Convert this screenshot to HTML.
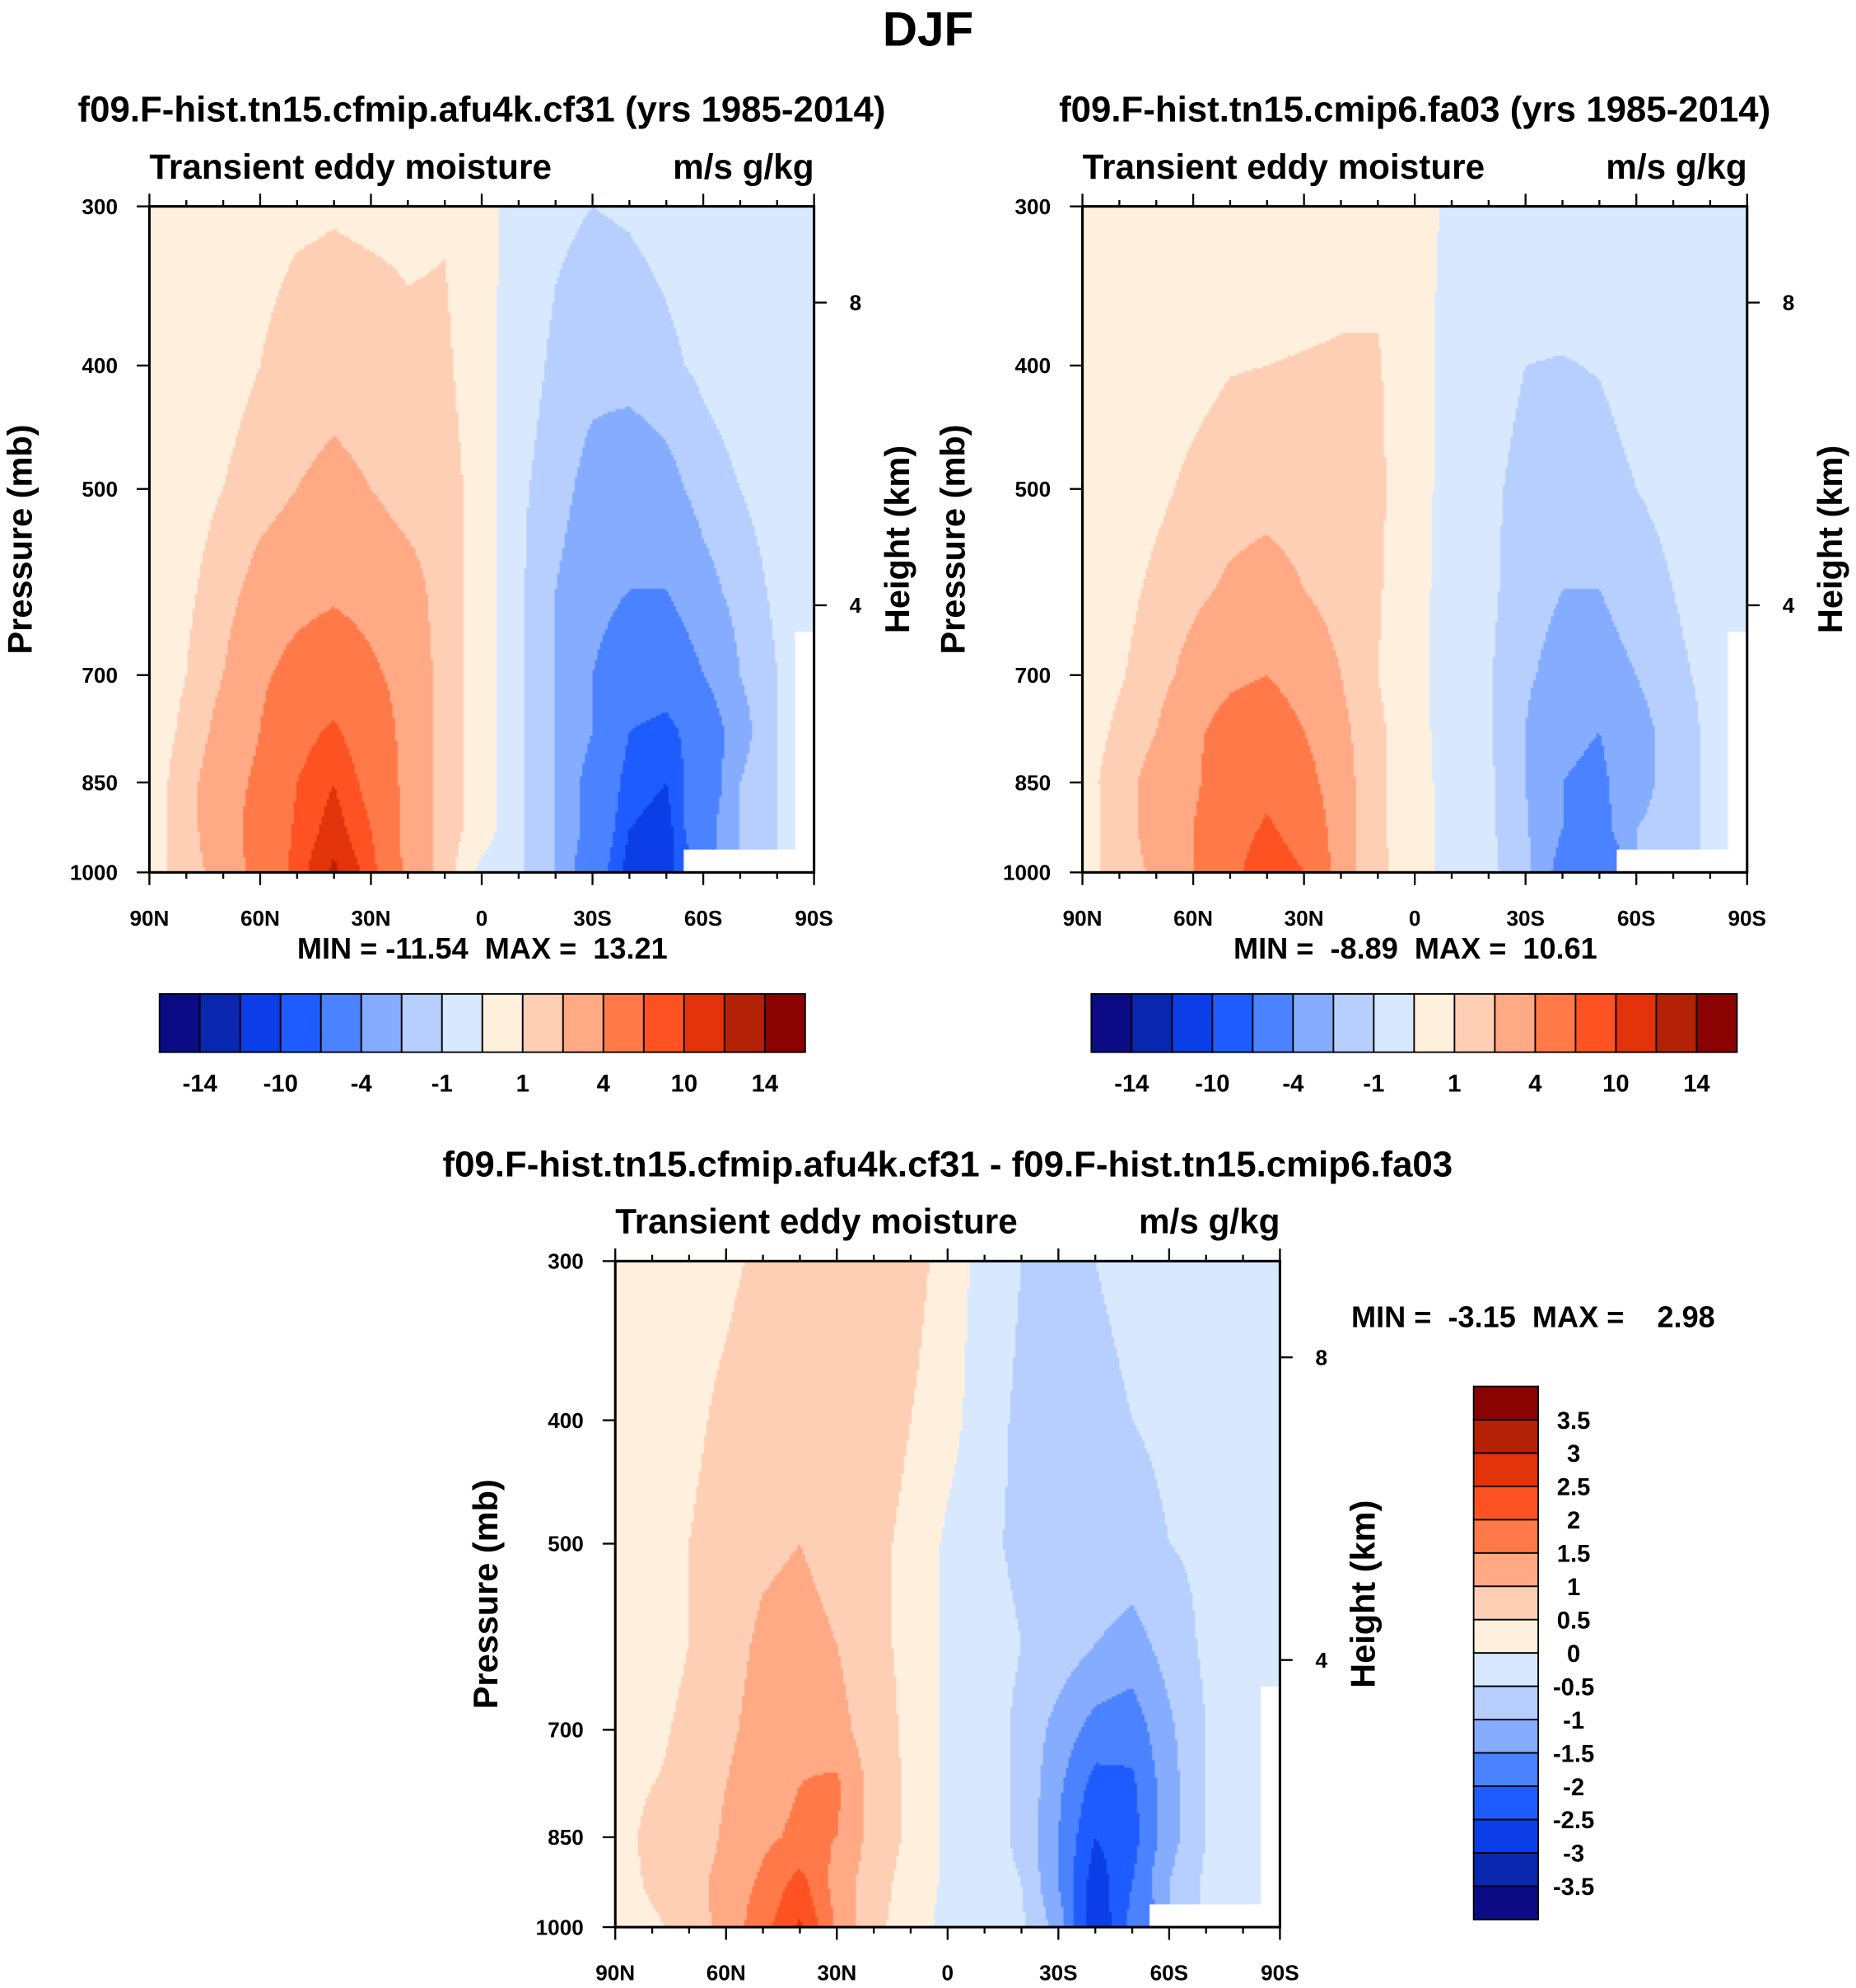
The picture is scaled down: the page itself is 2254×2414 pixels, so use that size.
<!DOCTYPE html>
<html><head><meta charset="utf-8">
<style>
body{margin:0;background:#fff;}
#wrap{position:absolute;left:0;top:0;width:1466px;height:1570px;transform:scale(1.5375);transform-origin:0 0;}
canvas{position:absolute;}
svg{position:absolute;left:0;top:0;}
text{font-family:"Liberation Sans",sans-serif;font-weight:bold;fill:#000;white-space:pre;}
</style></head>
<body>
<div id="wrap">
<canvas id="c1" width="525" height="526" style="left:118px;top:163px"></canvas>
<canvas id="c2" width="525" height="526" style="left:855px;top:163px"></canvas>
<canvas id="c3" width="525" height="526" style="left:486px;top:996px"></canvas>
<svg id="s" width="1466" height="1570" viewBox="0 0 1466 1570"></svg>
</div>
<script>
const lats=[90,80,70,60,50,40,30,20,10,0,-10,-20,-30,-40,-50,-60,-70,-80,-90];
const levels=[1000,925,850,775,700,600,500,400,300];
const n=null;
const data1=[
[0.5,1.5,2.5,5,9,12.5,9,3,1.5,-0.3,-0.8,-2,-6,-11,-10,n,n,n,n],
[0.5,1.5,3,5,8.5,11,8,3,1.5,0.5,-0.8,-2,-5,-10,-11,-5,-2,-1,n],
[0.5,1.5,3,4.5,8,10,7,3,1.5,0.5,-0.8,-2,-5,-9,-10,-6,-2,-1,n],
[0.5,1.2,2.5,4,7,8.5,6,3,1.5,0.5,-0.8,-2,-4,-8,-9,-6,-2.5,-1,n],
[0.5,1,2,3.5,5,6,4.5,3,1.5,0.5,-0.8,-2,-4,-6,-6,-4,-2,-1,n],
[0.3,0.8,1.5,2.5,3,3.5,3,2.5,1.5,0.5,-0.8,-2,-3,-4,-4,-2.5,-1.5,-0.8,-0.5],
[0.3,0.6,1,1.5,2,2.3,2,1.5,1.5,0.5,-0.8,-1.5,-2.5,-3,-2.5,-1.5,-1,-0.6,-0.5],
[0.2,0.4,0.6,1,1.5,1.6,1.5,1.2,1.2,0.3,-0.5,-1.2,-1.6,-1.5,-1.2,-0.8,-0.5,-0.4,-0.3],
[0.2,0.3,0.4,0.6,0.8,0.9,0.8,0.8,0.9,0.3,-0.3,-0.8,-1,-0.9,-0.7,-0.5,-0.4,-0.3,-0.2]];
const data2=[
[0.5,1.5,2.2,4,7,10,8,2.5,1.2,0.5,-0.4,-0.8,-1.5,-5,-6,n,n,n,n],
[0.5,1.5,2.5,4,6.5,8.5,6.5,2.5,1.2,0.4,-0.4,-0.8,-1.8,-4,-5,-2,-1.5,-0.8,n],
[0.6,1.5,2.5,3.5,6,7,5,2.5,1.2,0.4,-0.4,-0.8,-2,-4,-4.5,-2.5,-1.5,-0.8,n],
[0.5,1.2,2,3.5,5,5.5,4,2.3,1.2,0.3,-0.4,-0.9,-2,-3.5,-4,-2.5,-1.5,-0.8,n],
[0.4,0.9,1.5,2.5,3.5,4,3,2,1,0.3,-0.4,-0.9,-1.8,-2.5,-2.5,-2,-1.2,-0.8,n],
[0.3,0.7,1.2,1.7,2.2,2.5,2,1.5,1.1,0.3,-0.4,-0.8,-1.5,-2,-2,-1.5,-1,-0.6,-0.5],
[0.3,0.5,0.8,1.2,1.5,1.6,1.5,1.3,1.2,0.3,-0.3,-0.8,-1.3,-1.5,-1.4,-1,-0.7,-0.5,-0.4],
[0.2,0.3,0.5,0.7,0.95,1.0,1.05,1.1,1.1,0.2,-0.2,-0.6,-1.0,-1.05,-0.95,-0.6,-0.4,-0.3,-0.2],
[0.1,0.2,0.3,0.4,0.5,0.5,0.5,0.6,0.6,0.2,-0.1,-0.2,-0.3,-0.3,-0.3,-0.2,-0.2,-0.2,-0.1]];
const data3=[
[0.2,0.4,0.7,1.2,1.8,2.6,1.4,0.6,0.3,-0.2,-0.3,-0.4,-1.2,-3,-1.8,n,n,n,n],
[0.2,0.6,0.8,1.2,1.6,2.2,1.3,0.7,0.3,-0.1,-0.3,-0.5,-1.5,-2.8,-2,-1,-0.4,-0.3,n],
[0.2,0.7,0.6,1.1,1.4,1.6,1.5,0.8,0.4,-0.1,-0.3,-0.6,-1.5,-2.5,-2.2,-1.2,-0.5,-0.3,n],
[0.2,0.5,0.6,1,1.3,1.5,1.6,0.8,0.4,-0.1,-0.3,-0.6,-1.4,-2.2,-2.1,-1.2,-0.5,-0.3,n],
[0.2,0.4,0.6,0.9,1.2,1.4,1.2,0.7,0.4,-0.1,-0.3,-0.6,-1.2,-1.7,-1.8,-1.1,-0.5,-0.3,n],
[0.1,0.3,0.5,0.8,1.1,1.2,1,0.6,0.4,-0.1,-0.3,-0.5,-0.7,-1,-1.2,-0.8,-0.4,-0.3,-0.2],
[0.1,0.3,0.5,0.7,0.9,1,0.8,0.6,0.4,-0.1,-0.4,-0.6,-0.6,-0.6,-0.7,-0.5,-0.4,-0.3,-0.2],
[0.1,0.2,0.4,0.6,0.8,0.9,0.8,0.7,0.5,0.2,-0.3,-0.6,-0.7,-0.6,-0.5,-0.4,-0.3,-0.2,-0.2],
[0.1,0.2,0.3,0.4,0.6,0.7,0.8,0.9,0.7,0.3,-0.2,-0.5,-0.5,-0.5,-0.4,-0.3,-0.2,-0.2,-0.2]];
const cnLevels1=[-14,-12,-10,-8,-4,-2,-1,0,1,2,4,8,10,12,14];
const cnLevels3=[-3.5,-3,-2.5,-2,-1.5,-1,-0.5,0,0.5,1,1.5,2,2.5,3,3.5];
const cbLabels1=["-14","-10","-4","-1","1","4","10","14"];
const cbLabels3=["3.5","3","2.5","2","1.5","1","0.5","0","-0.5","-1","-1.5","-2","-2.5","-3","-3.5"];
const colors=["#0b0b86","#0a27b0","#0b3ee6","#1e5cff","#4a82ff","#85acff","#b6cfff","#d8e9ff","#ffefdd","#ffcfb5","#ffa985","#ff7a48","#ff5222","#e3330a","#b32206","#8a0202"];
const pAxis=[1000,850,700,500,400,300];
const latTicks=[90,60,30,0,-30,-60,-90];
const latLabels=["90N","60N","30N","0","30S","60S","90S"];
const hTicks=[8,4];
const hP=[357,617];

const W=525,H=526;
const yP=p=>Math.log(p/300)/Math.log(1000/300)*H;
const xL=l=>(90-l)/180*W;
function colorFor(v,lv){let i=0;while(i<lv.length&&v>=lv[i])i++;return colors[i];}
function sample(d,lat,p){
  let fx=(90-lat)/10,i=Math.min(17,Math.floor(fx));let tx=fx-i;
  const lp=Math.log(p);let j=0;
  while(j<levels.length-2&&Math.log(levels[j+1])>lp)j++;
  let ty=(Math.log(levels[j])-lp)/(Math.log(levels[j])-Math.log(levels[j+1]));
  ty=Math.max(0,Math.min(1,ty));
  const ni=Math.round(fx),nj=ty<0.5?j:j+1;
  if(d[nj][ni]===null)return null;
  const a=d[j][i],b=d[j][i+1],c=d[j+1][i],e=d[j+1][i+1];
  const arr=[[a,(1-tx)*(1-ty)],[b,tx*(1-ty)],[c,(1-tx)*ty],[e,tx*ty]];
  let s=0,w=0;for(const[v,ww]of arr){if(v===null)continue;s+=v*ww;w+=ww;}
  return w>0?s/w:null;
}
function draw(id,d,lv){
  const ctx=document.getElementById(id).getContext('2d');
  for(let y=0;y<H;y+=2){const p=300*Math.exp((y+1)/H*Math.log(1000/300));
    for(let x=0;x<W;x+=2){const lat=90-(x+1)/W*180;const v=sample(d,lat,p);
      ctx.fillStyle=v===null?"#fff":colorFor(v,lv);ctx.fillRect(x,y,2,2);}}
}
draw('c1',data1,cnLevels1);draw('c2',data2,cnLevels1);draw('c3',data3,cnLevels3);

const S=document.getElementById('s');const NS="http://www.w3.org/2000/svg";
function el(t,a,txt){const e=document.createElementNS(NS,t);for(const k in a)e.setAttribute(k,a[k]);if(txt!==undefined)e.textContent=txt;S.appendChild(e);return e;}
function txt(x,y,s,size,name,anchor,rot){const a={x:x,y:y,"font-size":size,"text-anchor":anchor||"middle"};if(rot)a.transform=`rotate(${rot} ${x} ${y})`;const e=el('text',a,s);

return e;}
txt(733,36,"DJF",38,"figure-title");
function panel(x0,y0,title,name){
  txt(x0+W/2,y0-67,title,28.5,name+"-title");
  txt(x0,y0-22,"Transient eddy moisture",27.5,name+"-subtitle","start");
  txt(x0+W,y0-22,"m/s g/kg",27.5,name+"-units","end");
  const r=el('rect',{x:x0,y:y0,width:W,height:H,fill:"none",stroke:"#000","stroke-width":2});
  
  
  for(let l=90;l>=-90;l-=10){const x=x0+xL(l);const L=(l%30===0)?10:5;
    el('line',{x1:x,x2:x,y1:y0,y2:y0-L,stroke:"#000","stroke-width":1.5});
    el('line',{x1:x,x2:x,y1:y0+H,y2:y0+H+L,stroke:"#000","stroke-width":1.5});}
  latTicks.forEach((l,i)=>txt(x0+xL(l),y0+H+42,latLabels[i],17,name+"-x-tick-label"));
  pAxis.forEach(p=>{const y=y0+yP(p);el('line',{x1:x0,x2:x0-10,y1:y,y2:y,stroke:"#000","stroke-width":1.5});
    txt(x0-25,y+6,String(p),17,name+"-y-tick-label","end");});
  hTicks.forEach((h,i)=>{const y=y0+yP(hP[i]);el('line',{x1:x0+W,x2:x0+W+10,y1:y,y2:y,stroke:"#000","stroke-width":1.5});
    txt(x0+W+28,y+6,String(h),17,name+"-right-tick-label","start");});
  txt(x0-93,y0+H/2,"Pressure (mb)",27,name+"-y-axis-title","middle",-90);
  txt(x0+W+75,y0+H/2,"Height (km)",27,name+"-right-axis-title","middle",-90);
}
panel(118,163,"f09.F-hist.tn15.cfmip.afu4k.cf31 (yrs 1985-2014)","panel-cf31");
panel(855,163,"f09.F-hist.tn15.cmip6.fa03 (yrs 1985-2014)","panel-fa03");
panel(486,996,"f09.F-hist.tn15.cfmip.afu4k.cf31 - f09.F-hist.tn15.cmip6.fa03","panel-diff");
txt(381,757,"MIN = -11.54  MAX =  13.21",23.5,"minmax-cf31");
txt(1118,757,"MIN =  -8.89  MAX =  10.61",23.5,"minmax-fa03");
txt(1211,1048,"MIN =  -3.15  MAX =    2.98",23.5,"minmax-diff");
function hbar(x0,name){const bw=510/16;
  colors.forEach((c,i)=>{const r=el('rect',{x:x0+i*bw,y:785,width:bw,height:46,fill:c,stroke:"#000","stroke-width":1.2});
    });
  cbLabels1.forEach((s,k)=>txt(x0+(2*k+1)*bw,862,s,19,name+"-label"));}
hbar(126,"colorbar-cf31");hbar(862,"colorbar-fa03");
const vb=421/16;
colors.slice().reverse().forEach((c,i)=>{const r=el('rect',{x:1164,y:1095+i*vb,width:51,height:vb,fill:c,stroke:"#000","stroke-width":1.2});
  });
cbLabels3.forEach((s,i)=>txt(1243,1095+(i+1)*vb+7,s,19,"colorbar-diff-label"));
</script>
</body></html>
